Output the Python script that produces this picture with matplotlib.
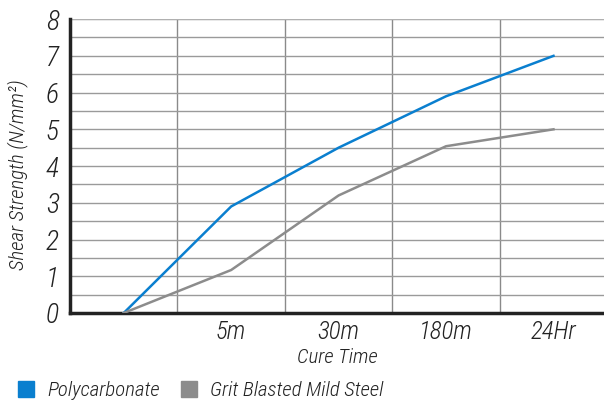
import matplotlib.pyplot as plt
from matplotlib.lines import Line2D

labels = ["", "5m", "30m", "180m", "24Hr"]
polycarbonate = [0, 2.9, 4.5, 5.9, 7.0]
mild_steel = [0, 1.17, 3.2, 4.54, 5.0]

blue = "#0a7fcf"
grey = "#8c8c8c"

plt.rcParams["font.family"] = ["Roboto Condensed", "DejaVu Sans"]
plt.rcParams["font.style"] = "italic"
plt.rcParams["font.weight"] = "light"
plt.rcParams["axes.labelweight"] = "light"
plt.rcParams["text.color"] = "#222222"
plt.rcParams["axes.labelcolor"] = "#222222"
plt.rcParams["xtick.color"] = "#222222"
plt.rcParams["ytick.color"] = "#222222"

fig = plt.figure(figsize=(6.04, 4.07), dpi=100)
ax = fig.add_axes([0.1159, 0.231, 0.8841, 0.722])

x = list(range(len(labels)))
ax.plot(x, polycarbonate, color=blue, lw=1.8, zorder=3)
ax.plot(x, mild_steel, color=grey, lw=1.8, zorder=3)

ax.set_xlim(-0.5, 4.47)
ax.set_ylim(0, 8)
ax.set_yticks(range(0, 9))
ax.set_yticks([i + 0.5 for i in range(8)], minor=True)
ax.set_xticks(x)
ax.set_xticklabels(labels, fontsize=18)
ax.set_xticks([i + 0.5 for i in range(4)], minor=True)
ax.tick_params(axis="y", labelsize=20, length=0, which="both", pad=8)
ax.tick_params(axis="x", length=0, which="both", pad=5)

ax.grid(True, axis="y", which="both", color="#9a9a9a", lw=1.0)
ax.grid(True, axis="x", which="minor", color="#8a8a8a", lw=1.0)
ax.axhline(8, color="#b0b0b0", lw=1.5)

for s in ["top", "right"]:
    ax.spines[s].set_visible(False)
ax.spines["left"].set_linewidth(2.5)
ax.spines["bottom"].set_linewidth(2.5)
ax.spines["left"].set_color("#222222")
ax.spines["bottom"].set_color("#222222")

ax.set_ylabel("Shear Strength (N/mm²)", fontsize=15)
ax.yaxis.set_label_coords(-0.079, 0.47)
ax.set_xlabel("Cure Time", fontsize=15, labelpad=3)

handles = [
    Line2D([], [], marker="s", color=blue, ls="", markersize=11),
    Line2D([], [], marker="s", color=grey, ls="", markersize=11),
]
fig.legend(handles, ["Polycarbonate", "Grit Blasted Mild Steel"], loc="lower left",
           bbox_to_anchor=(-0.008, -0.03), ncol=2, frameon=False, fontsize=15,
           handletextpad=0.4, columnspacing=0.8, handlelength=1.2)

fig.savefig("out.png", dpi=100)
